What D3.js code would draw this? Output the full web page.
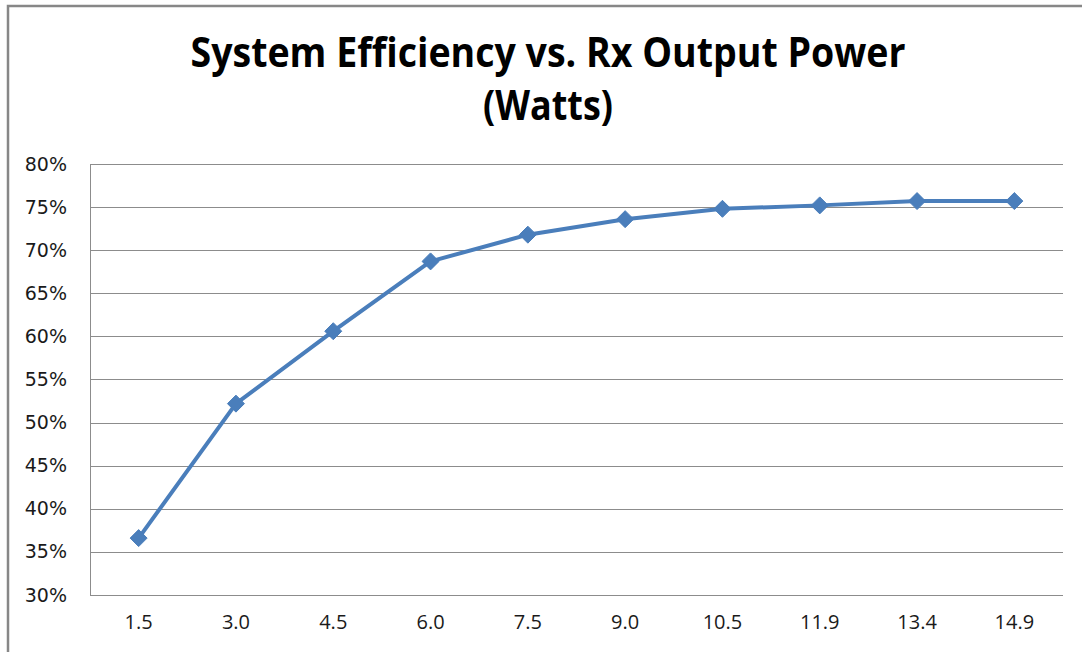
<!DOCTYPE html>
<html>
<head>
<meta charset="utf-8">
<script src="https://cdn.jsdelivr.net/npm/d3@7"></script>
<style>
  html, body { margin: 0; padding: 0; background: #fff; }
  svg { display: block; }
</style>
</head>
<body>
<svg id="chart" width="1082" height="652"></svg>
<script>
const categories = ["1.5", "3.0", "4.5", "6.0", "7.5", "9.0", "10.5", "11.9", "13.4", "14.9"];
const efficiency = [0.366, 0.522, 0.606, 0.687, 0.718, 0.736, 0.748, 0.752, 0.757, 0.757];
const yTicks = [0.30, 0.35, 0.40, 0.45, 0.50, 0.55, 0.60, 0.65, 0.70, 0.75, 0.80];
const titleLines = ["System Efficiency vs. Rx Output Power", "(Watts)"];

const svg = d3.select("#chart");
const W = 1082, H = 652;
const plot = { left: 90, right: 1063, top: 164, bottom: 595 };

// outer chart border (top and left visible)
svg.append("path")
  .attr("d", `M8,${H} L8,6 L${W},6`)
  .attr("fill", "none").attr("stroke", "#878787").attr("stroke-width", 2.5);

// title
const title = svg.append("g").attr("font-family", "'Open Sans', sans-serif")
  .attr("font-weight", "bold").attr("fill", "#000").attr("text-anchor", "middle");
title.append("text").attr("x", 548).attr("y", 67).attr("font-size", 41)
  .attr("textLength", 715).attr("lengthAdjust", "spacingAndGlyphs").text(titleLines[0]);
title.append("text").attr("x", 548).attr("y", 120).attr("font-size", 41)
  .attr("textLength", 130).attr("lengthAdjust", "spacingAndGlyphs").text(titleLines[1]);

const x = d3.scaleBand().domain(categories).range([plot.left, plot.right]);
const y = d3.scaleLinear().domain([0.30, 0.80]).range([plot.bottom, plot.top]);

// gridlines
svg.append("g").selectAll("line").data(yTicks.filter(t => t > 0.30)).join("line")
  .attr("x1", plot.left).attr("x2", plot.right)
  .attr("y1", d => Math.round(y(d)) + 0.5).attr("y2", d => Math.round(y(d)) + 0.5)
  .attr("stroke", "#8c8c8c").attr("stroke-width", 1);

// y axis
const yAxis = svg.append("g").attr("transform", `translate(${plot.left},0)`)
  .call(d3.axisLeft(y).tickValues(yTicks).tickFormat(d3.format(".0%")).tickSize(0).tickPadding(23));
yAxis.select(".domain").attr("stroke", "#8c8c8c").attr("d", `M0.5,${plot.top}V${plot.bottom}`);
yAxis.selectAll("text").attr("font-family", "'DejaVu Sans', Verdana, sans-serif")
  .attr("font-size", 19).attr("fill", "#1a1a1a");

// x axis
const xAxis = svg.append("g").attr("transform", `translate(0,${plot.bottom})`)
  .call(d3.axisBottom(x).tickSize(0).tickPadding(20));
xAxis.select(".domain").attr("stroke", "#8c8c8c").attr("d", `M${plot.left},0.5H${plot.right}`);
xAxis.selectAll("text").attr("font-family", "'Open Sans', sans-serif")
  .attr("font-size", 20).attr("fill", "#1a1a1a");

// line
const cx = d => x(d) + x.bandwidth() / 2;
const data = categories.map((c, i) => ({ c, v: efficiency[i] }));
svg.append("path").datum(data)
  .attr("fill", "none").attr("stroke", "#4a7ebb").attr("stroke-width", 4)
  .attr("stroke-linejoin", "round")
  .attr("d", d3.line().x(d => cx(d.c)).y(d => y(d.v)));

// diamond markers
svg.append("g").selectAll("path").data(data).join("path")
  .attr("transform", d => `translate(${cx(d.c)},${y(d.v)})`)
  .attr("d", "M0,-8.5 L8.5,0 L0,8.5 L-8.5,0 Z")
  .attr("fill", "#4a7ebb").attr("stroke", "#4a7ebb").attr("stroke-width", 1);
</script>
</body>
</html>
